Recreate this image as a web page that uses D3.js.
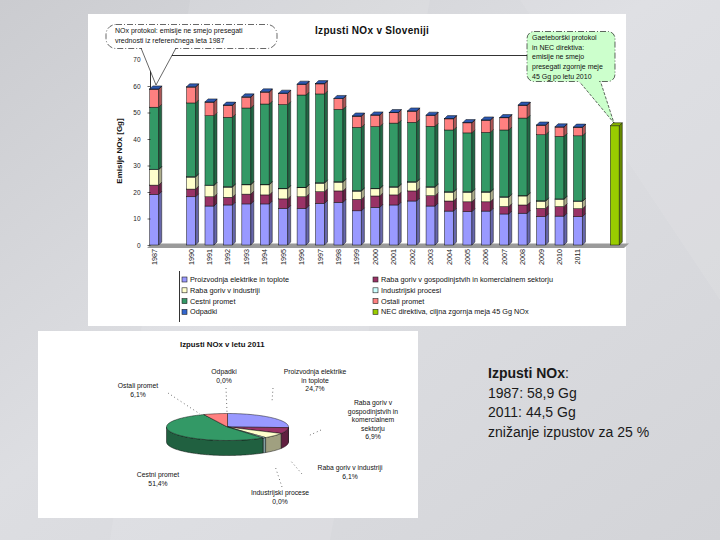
<!DOCTYPE html>
<html><head><meta charset="utf-8">
<script src="https://cdn.jsdelivr.net/npm/d3@7"></script>
<style>html,body{margin:0;padding:0;background:#d8d9dd;} svg{display:block;font-family:"Liberation Sans",Arial,sans-serif;}</style>
</head><body><svg id="c" width="720" height="540"></svg>
<script>
// ---------- DATA ----------
const years = ["1987","1990","1991","1992","1993","1994","1995","1996","1997","1998","1999","2000","2001","2002","2003","2004","2005","2006","2007","2008","2009","2010","2011"];
const proizvodnja   = [19.1,18.2,14.7,15.1,15.5,15.5,13.8,13.8,15.7,16.1,12.9,14.2,15.1,16.6,14.7,12.8,12.6,12.8,11.7,12.0,10.7,10.9,10.7];
const gospodinjstva = [3.5,2.9,3.5,2.9,3.7,3.4,3.6,4.4,4.4,4.3,4.3,4.3,3.8,3.8,3.9,3.8,3.7,3.5,2.8,3.1,3.1,3.6,3.0];
const industrija    = [5.8,4.5,4.2,3.8,3.5,3.8,3.8,3.4,3.2,3.3,3.1,2.7,2.9,3.3,3.2,3.3,3.6,3.6,3.5,3.4,2.7,2.7,2.7];
const procesi       = [0.2,0.2,0.2,0.2,0.2,0.2,0.2,0.2,0.2,0.2,0.2,0.2,0.2,0.2,0.2,0.2,0.2,0.2,0.2,0.2,0.2,0.2,0.2];
const cestni        = [23.4,27.8,26.2,26.2,28.8,30.3,31.6,34.8,33.5,27.3,23.9,23.3,24.0,22.4,22.8,23.3,22.2,22.4,25.2,29.2,24.9,23.6,24.6];
const ostali        = [6.8,6.0,5.1,4.5,4.1,4.5,4.2,4.0,3.8,4.0,4.2,4.3,3.9,4.2,4.1,4.2,3.8,4.6,4.6,4.8,3.6,3.5,3.2];
const odpadki       = [0.1,0.1,0.1,0.1,0.1,0.1,0.1,0.1,0.1,0.1,0.1,0.1,0.1,0.1,0.1,0.1,0.1,0.1,0.1,0.1,0.1,0.1,0.1];
const necCategory = "NEC";
const necValue = 45;
const yTicks = [0,10,20,30,40,50,60,70];
const seriesNames = ["Proizvodnja elektrike in toplote","Raba goriv v gospodinjstvih in komercialnem sektorju","Raba goriv v industriji","Industrijski procesi","Cestni promet","Ostali promet","Odpadki","NEC direktiva, ciljna zgornja meja 45 Gg NOx"];
const seriesColors = ["#9999ff","#993366","#ffffcc","#ccffff","#339966","#ff8080","#3366cc","#99cc00"];

const pieNames  = ["Proizvodnja elektrike\nin toplote","Raba goriv v\ngospodinjstvih in\nkomercialnem\nsektorju","Raba goriv v industriji","Industrijski procese","Cestni promet","Ostali promet","Odpadki"];
const pieValues = [24.7,6.9,6.1,0.8,51.4,6.1,0.0];
const pieLabelsPct = ["24,7%","6,9%","6,1%","0,0%","51,4%","6,1%","0,0%"];

const noteLines = ["1987: 58,9 Gg","2011: 44,5 Gg","znižanje izpustov za 25 %"];

// ---------- SETUP ----------
const svg = d3.select("#c");
const defs = svg.append("defs");
const bg = defs.append("linearGradient").attr("id","bg").attr("x1","0").attr("y1","0").attr("x2","1").attr("y2","1");
bg.append("stop").attr("offset","0").attr("stop-color","#cbccd0");
bg.append("stop").attr("offset","0.45").attr("stop-color","#dddee2");
bg.append("stop").attr("offset","1").attr("stop-color","#d3d4d8");
svg.append("rect").attr("width",720).attr("height",540).attr("fill","url(#bg)");
svg.append("path").attr("d","M190,0 L430,0 L330,540 L110,540 Z").attr("fill","#fff").attr("opacity",0.10);
svg.append("path").attr("d","M520,0 L720,0 L720,300 Z").attr("fill","#fff").attr("opacity",0.08);

// panels
svg.append("rect").attr("x",88).attr("y",14).attr("width",538).attr("height",312).attr("fill","#fff");
svg.append("rect").attr("x",38).attr("y",331).attr("width",380).attr("height",187).attr("fill","#fff");

// ---------- BAR CHART ----------
const slots = [years[0],"_gapA"].concat(years.slice(1)).concat(["_gapB",necCategory]);
const x = d3.scaleBand().domain(slots).range([146,625]);
const y = d3.scaleLinear().domain([0,70]).range([245,59.5]);
const bw = 9, dep = 3;

// floor
svg.append("path").attr("d",`M147,248 L624,248 L629,243.5 L152,243.5 Z`).attr("fill","#9a9a9a");
// back wall lines
svg.append("line").attr("x1",150.5).attr("x2",585).attr("y1",55.5).attr("y2",55.5).attr("stroke","#000").attr("stroke-width",0.8);
svg.append("line").attr("x1",150.5).attr("x2",150.5).attr("y1",55.5).attr("y2",245).attr("stroke","#000").attr("stroke-width",0.8);

const keys = ["p","g","i","r","c","o","d"];
const rows = years.map((yr,k)=>({year:yr,p:proizvodnja[k],g:gospodinjstva[k],i:industrija[k],r:procesi[k],c:cestni[k],o:ostali[k],d:odpadki[k]}));
const stacked = d3.stack().keys(keys)(rows);

function draw3DBar(g, cxp, v0, v1, color, topFace){
  const x0 = cxp - bw/2 - 1, y0 = y(v0), y1 = y(v1);
  const dark = d3.color(color).darker(1.1).formatHex();
  g.append("rect").attr("x",x0).attr("y",y1).attr("width",bw).attr("height",Math.max(0,y0-y1))
    .attr("fill",color).attr("stroke","#111").attr("stroke-width",0.5);
  g.append("path").attr("d",`M${x0+bw},${y0} L${x0+bw+dep},${y0-dep} L${x0+bw+dep},${y1-dep} L${x0+bw},${y1} Z`)
    .attr("fill",dark).attr("stroke","#111").attr("stroke-width",0.5);
  if(topFace){
    g.append("path").attr("d",`M${x0},${y1} L${x0+dep},${y1-dep} L${x0+bw+dep},${y1-dep} L${x0+bw},${y1} Z`)
      .attr("fill",d3.color(color).darker(0.4).formatHex()).attr("stroke","#111").attr("stroke-width",0.5);
  }
}
const gb = svg.append("g");
rows.forEach((r,k)=>{
  const cxp = x(r.year)+x.bandwidth()/2;
  stacked.forEach((s,si)=>{
    const d = s[k];
    if(d[1]-d[0] <= 0) return;
    draw3DBar(gb, cxp, d[0], d[1], seriesColors[si], si===keys.length-1);
  });
});
draw3DBar(gb, x(necCategory)+x.bandwidth()/2, 0, necValue, seriesColors[7], true);

// y axis
const gy = svg.append("g").attr("transform","translate(150.5,0)")
  .call(d3.axisLeft(y).tickValues(yTicks).tickSize(3).tickPadding(7));
gy.select(".domain").remove();
gy.selectAll("text").attr("font-size",6.5).attr("fill","#222").attr("font-family","Liberation Sans, Arial, sans-serif");
gy.selectAll("line").attr("stroke","#000").attr("stroke-width",0.6);

// x axis labels
const gx = svg.append("g").attr("transform","translate(-1,248)")
  .call(d3.axisBottom(x).tickValues(years).tickSize(0).tickPadding(0));
gx.select(".domain").remove();
gx.selectAll("text").attr("transform","rotate(-90)").attr("text-anchor","end").attr("x",-1).attr("y",0).attr("dy","0.35em")
  .attr("font-size",7.2).attr("fill","#222").attr("font-family","Liberation Sans, Arial, sans-serif");

// y label
svg.append("text").attr("transform","translate(122,151) rotate(-90)").attr("text-anchor","middle")
  .attr("font-size",8).attr("font-weight","bold").attr("fill","#111").text("Emisije NOx [Gg]");
// title
svg.append("text").attr("x",315).attr("y",34).attr("font-size",10).attr("font-weight","bold").attr("fill","#111")
  .attr("letter-spacing",0.3).text("Izpusti NOx v Sloveniji");

// legend
svg.append("line").attr("x1",179.5).attr("x2",179.5).attr("y1",271).attr("y2",322).attr("stroke","#000").attr("stroke-width",0.8);
const legOrder = [[0,0],[2,1],[4,2],[6,3],[1,0],[3,1],[5,2],[7,3]];
legOrder.forEach(([si,row],k)=>{
  const col = k<4?0:1;
  const lx = col===0?182:373, ly = 280 + row*10.8;
  svg.append("rect").attr("x",lx).attr("y",ly-3).attr("width",5).attr("height",5)
    .attr("fill",seriesColors[si]).attr("stroke","#222").attr("stroke-width",0.6);
  svg.append("text").attr("x",lx+8).attr("y",ly+2).attr("font-size",7.3).attr("fill","#111").text(seriesNames[si]);
});

// left callout
svg.append("path").attr("d","M141,48 L156,85 L176,48").attr("fill","#fff").attr("stroke","#000").attr("stroke-width",0.6);
svg.append("rect").attr("x",106).attr("y",24.5).attr("width",171).attr("height",24).attr("rx",10).attr("ry",10)
  .attr("fill","#fff").attr("stroke","#000").attr("stroke-width",0.6).attr("stroke-dasharray","6,2,1,2");
svg.append("path").attr("d","M142,48.5 L175,48.5").attr("stroke","#fff").attr("stroke-width",1.2);
svg.append("text").attr("x",115).attr("y",33).attr("font-size",7).attr("fill","#111").text("NOx protokol: emisije ne smejo presegati");
svg.append("text").attr("x",115).attr("y",42.5).attr("font-size",7).attr("fill","#111").text("vrednosti iz referenčnega leta 1987");

// right callout
svg.append("path").attr("d","M578,80 L614,123 L600,80").attr("fill","#ccffcc").attr("stroke","#000").attr("stroke-width",0.6).attr("stroke-dasharray","3,1.5");
svg.append("rect").attr("x",527).attr("y",31.5).attr("width",88).attr("height",50).attr("rx",7).attr("ry",7)
  .attr("fill","#ccffcc").attr("stroke","#000").attr("stroke-width",0.6).attr("stroke-dasharray","6,2,1,2");
svg.append("path").attr("d","M579,81.5 L599,81.5").attr("stroke","#ccffcc").attr("stroke-width",1.4);
["Gaeteborški protokol","in NEC direktiva:","emisije ne smejo","presegati zgornje meje","45 Gg po letu 2010"].forEach((t,k)=>{
  svg.append("text").attr("x",532).attr("y",40+k*9.7).attr("font-size",7).attr("fill","#111").text(t);
});

// ---------- PIE ----------
svg.append("text").attr("x",180).attr("y",347).attr("font-size",7.8).attr("font-weight","bold").attr("fill","#111").text("Izpusti NOx v letu 2011");
const pcx=227.5, pcy=427, prx=61, pry=13.5, pdep=15;
const arcs = d3.pie().sort(null).value(d=>d)(pieValues);
function pt(a,dy){ return [pcx+prx*Math.sin(a), pcy-pry*Math.cos(a)+(dy||0)]; }
function arcPts(a0,a1,dy){ const n=Math.max(2,Math.ceil((a1-a0)/0.02)); const p=[]; for(let i=0;i<=n;i++) p.push(pt(a0+(a1-a0)*i/n,dy)); return p; }
const pieColors = seriesColors.slice(0,7);
const gp = svg.append("g");
// sides (front half)
arcs.forEach((a,k)=>{
  const s = Math.max(a.startAngle, Math.PI/2), e = Math.min(a.endAngle, 3*Math.PI/2);
  if(e<=s) return;
  const top = arcPts(s,e,0), bot = arcPts(s,e,pdep).reverse();
  gp.append("path").attr("d","M"+top.concat(bot).map(p=>p.join(",")).join("L")+"Z")
    .attr("fill",d3.color(pieColors[k]).darker(1.3).formatHex()).attr("stroke","#111").attr("stroke-width",0.5);
});
// tops
arcs.forEach((a,k)=>{
  if(a.endAngle-a.startAngle<=0) return;
  const p = arcPts(a.startAngle,a.endAngle,0);
  gp.append("path").attr("d",`M${pcx},${pcy}L`+p.map(q=>q.join(",")).join("L")+"Z")
    .attr("fill",pieColors[k]).attr("stroke","#111").attr("stroke-width",0.5);
});
// labels
const pieLabelPos = [[315,374],[373,405],[350,470],[280,495],[158,477],[138,388],[224,374]];
const pieLeaders = [[[273,388],[272,402]],[[321,430],[308,436]],[[302,474],[290,460]],[[282,487],[275,466]],null,[[168,393],[200,414]],[[226,388],[227,412]]];
pieNames.forEach((n,k)=>{
  const lines = n.split("\n").concat([pieLabelsPct[k]]);
  const t = svg.append("text").attr("text-anchor","middle").attr("font-size",6.8).attr("fill","#111");
  lines.forEach((l,j)=>t.append("tspan").attr("x",pieLabelPos[k][0]).attr("y",pieLabelPos[k][1]+j*8.6).text(l));
  if(pieLeaders[k]){
    const L = pieLeaders[k];
    svg.append("line").attr("x1",L[0][0]).attr("y1",L[0][1]).attr("x2",L[1][0]).attr("y2",L[1][1])
      .attr("stroke","#222").attr("stroke-width",0.8).attr("stroke-dasharray","0.8,3");
  }
});

// ---------- NOTE TEXT ----------
const nt = svg.append("text").attr("x",488).attr("y",378).attr("font-size",14).attr("fill","#1a1a1a");
nt.append("tspan").attr("font-weight","bold").text("Izpusti NOx");
nt.append("tspan").text(":");
noteLines.forEach((l,k)=>svg.append("text").attr("x",488).attr("y",397.5+k*19.5).attr("font-size",14).attr("fill","#1a1a1a").text(l));
</script>
</body></html>
